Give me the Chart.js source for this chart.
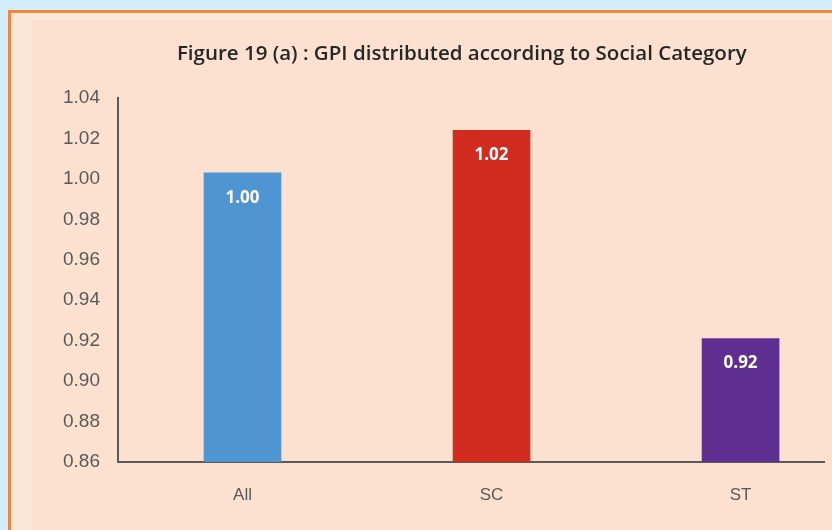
<!DOCTYPE html>
<html>
<head>
<meta charset="utf-8">
<script src="https://cdn.jsdelivr.net/npm/chart.js@4/dist/chart.umd.min.js"></script>
<style>
  html, body { margin: 0; padding: 0; width: 832px; height: 530px; overflow: hidden; background: #d3eefa; }
  #frame { position: absolute; left: 8px; top: 10px; width: 900px; height: 600px; border: 3px solid #f0883a; background: #fce6d7; box-sizing: border-box; }
  #inner { position: absolute; left: 32px; top: 20px; width: 900px; height: 600px; background: #fde1d0; }
  #wrap { position: absolute; left: 0; top: 0; width: 832px; height: 530px; }
</style>
</head>
<body>
<div id="frame"></div>
<div id="inner"></div>
<div id="wrap"><canvas id="c" width="832" height="530"></canvas></div>
<script>
const titleText = "Figure 19 (a) : GPI distributed according to Social Category";
const categories = ["All", "SC", "ST"];
const values = [1.003, 1.024, 0.921];
const barColors = ["#4e95d1", "#d12c1f", "#5f2e91"];
const yTicks = [0.86, 0.88, 0.90, 0.92, 0.94, 0.96, 0.98, 1.00, 1.02, 1.04];

const dataLabels = {
  id: 'dataLabels',
  afterDatasetsDraw(chart) {
    const ctx = chart.ctx;
    const meta = chart.getDatasetMeta(0);
    ctx.save();
    ctx.fillStyle = '#ffffff';
    ctx.font = 'bold 17px "Open Sans"';
    ctx.textAlign = 'center';
    ctx.textBaseline = 'middle';
    meta.data.forEach((el, i) => {
      ctx.fillText(values[i].toFixed(2), el.x, el.y + 25);
    });
    ctx.restore();
  }
};

const titlePlugin = {
  id: 'titlePlugin',
  afterDraw(chart) {
    const ctx = chart.ctx;
    ctx.save();
    ctx.fillStyle = '#262626';
    ctx.font = '600 20.5px "Open Sans"';
    ctx.textAlign = 'center';
    ctx.textBaseline = 'middle';
    ctx.fillText(titleText, chart.chartArea.left + (chart.chartArea.right - chart.chartArea.left) * 0.487, 54);
    ctx.restore();
  }
};

new Chart(document.getElementById('c'), {
  type: 'bar',
  data: {
    datasets: [{
      data: values.map((v, i) => ({ x: i, y: v })),
      backgroundColor: barColors,
      borderWidth: 0,
      barThickness: 77
    }]
  },
  options: {
    responsive: false,
    animation: false,
    layout: { padding: { left: 0, right: 8, top: 98, bottom: 0 } },
    plugins: {
      legend: { display: false },
      tooltip: { enabled: false },
      title: { display: false }
    },
    scales: {
      x: {
        type: 'linear',
        offset: false,
        min: -0.5,
        max: 2.335,
        afterBuildTicks(scale) { scale.ticks = categories.map((c, i) => ({ value: i })); },
        afterFit(scale) { scale.height = 68; },
        ticks: {
          callback: (v) => categories[v] ?? '',
          color: '#595959',
          font: { family: 'Liberation Sans', size: 17 },
          padding: 23,
          maxRotation: 0
        },
        grid: { display: false, drawTicks: false, offset: false },
        border: { display: true, color: '#5a5a5a', width: 2 }
      },
      y: {
        min: 0.86,
        max: 1.04,
        afterBuildTicks(scale) { scale.ticks = yTicks.map(v => ({ value: v })); },
        afterFit(scale) { scale.width = 118; },
        ticks: {
          callback: (v) => v.toFixed(2),
          color: '#595959',
          font: { family: 'Liberation Sans', size: 19 },
          padding: 18
        },
        grid: { display: false, drawTicks: false },
        border: { display: true, color: '#5a5a5a', width: 2 }
      }
    }
  },
  plugins: [dataLabels, titlePlugin]
});
</script>
</body>
</html>
